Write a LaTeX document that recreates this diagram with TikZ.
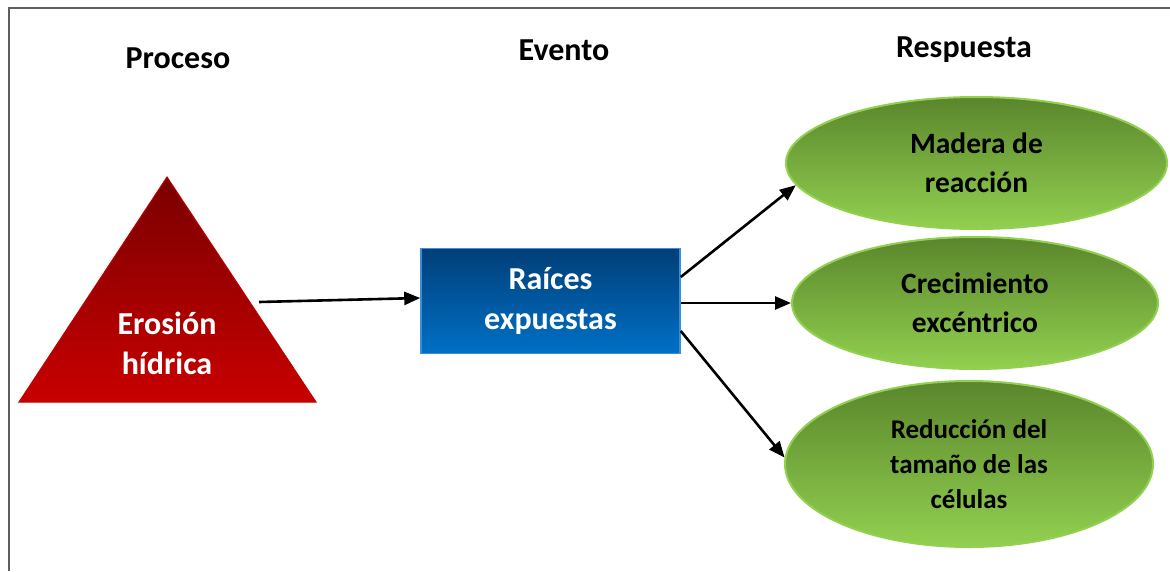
\documentclass[tikz,border=0pt]{standalone}
\usepackage{fontspec}
\setmainfont{Carlito}
\usetikzlibrary{shapes.geometric,arrows.meta,calc}
\definecolor{framegray}{HTML}{5F5F5F}
\definecolor{redtop}{HTML}{7A0000}
\definecolor{redbot}{HTML}{C80000}
\definecolor{redline}{HTML}{C00000}
\definecolor{bluetop}{HTML}{003F78}
\definecolor{bluebot}{HTML}{0070C6}
\definecolor{blueline}{HTML}{3A8FD8}
\definecolor{greentop}{HTML}{5A862C}
\definecolor{greenbot}{HTML}{92D050}
\definecolor{greenline}{HTML}{92D050}
\tikzset{
  header/.style={font=\bfseries\fontsize{32}{38}\selectfont, text=black},
  bluebox/.style={draw=blueline, line width=1.5pt, top color=bluetop, bottom color=bluebot,
    minimum width=259pt, minimum height=105pt, inner sep=0pt, align=center,
    text=white, font=\bfseries\fontsize{32}{40}\selectfont},
  greenell/.style={ellipse, draw=greenline, line width=2pt, top color=greentop, bottom color=greenbot,
    inner sep=0pt, align=center, text=black, font=\bfseries\fontsize{29.5}{39}\selectfont},
  conn/.style={line width=2.6pt, -{Triangle[length=16pt,width=13pt]}},
}
\begin{document}
\begin{tikzpicture}[x=1pt,y=-1pt]
\useasboundingbox (0,0) rectangle (1170,571);
\fill[white] (0,0) rectangle (1170,571);
% frame
\draw[framegray, line width=2pt] (9,571) -- (9,8) -- (1170,8);
% headers
\node[header] (hproc) at (178,58) {Proceso};
\node[header] (hevt) at (564,50) {Evento};
\node[header] (hresp) at (964,50) {Respuesta};
% triangle
\shade[top color=redtop, bottom color=redbot, draw=redline, line width=1pt]
  (167,177) -- (316,402) -- (19,402) -- cycle;
\node[text=white, align=center, font=\bfseries\fontsize{32}{40}\selectfont] (tri) at (167,343) {Erosión\\hídrica};
\coordinate (tout) at (259,302);
% box
\node[bluebox] (box) at (550.5,301) {Raíces\\expuestas};
% ellipses
\node[greenell, minimum width=381pt, minimum height=132pt] (e1) at (976.5,163) {Madera de\\reacción};
\node[greenell, minimum width=366pt, minimum height=132pt] (e2) at (975,303) {Crecimiento\\excéntrico};
\node[greenell, minimum width=368pt, minimum height=166pt, font=\bfseries\fontsize{27}{35}\selectfont] (e3) at (969,464) {Reducción del\\tamaño de las\\células};
% connectors
\draw[conn] (tout) -- ([yshift=3pt]box.west);
\draw[conn] ([yshift=24pt]box.east) -- (e1.187);
\draw[conn] ([yshift=-2pt]box.east) -- (e2.west);
\draw[conn] ([yshift=-30pt]box.east) -- (e3.178);
\end{tikzpicture}
\end{document}
